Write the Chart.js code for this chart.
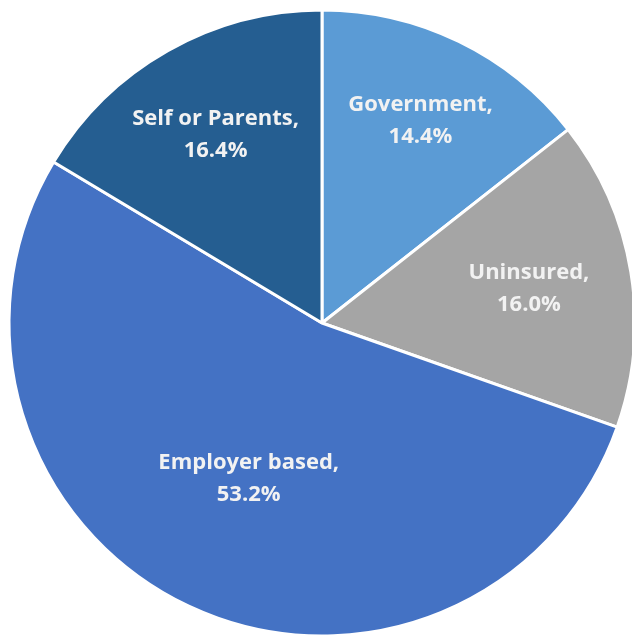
<!DOCTYPE html>
<html>
<head>
<meta charset="utf-8">
<script src="https://cdn.jsdelivr.net/npm/chart.js@4"></script>
<style>
  html, body { margin: 0; padding: 0; background: #ffffff; overflow: hidden; width: 632px; height: 636px; }
  canvas { display: block; }
</style>
</head>
<body>
<canvas id="c" width="644" height="646"></canvas>
<script>
const categories = ["Government", "Uninsured", "Employer based", "Self or Parents"];
const shares = [14.4, 16.0, 53.2, 16.4];
const sliceColors = ["#5B9BD5", "#A5A5A5", "#4472C4", "#255E91"];
const labelRadiusFraction = [0.72, 0.67, 0.55, 0.69];

const pieLabels = {
  id: 'pieLabels',
  afterDatasetsDraw(chart) {
    const ctx = chart.ctx;
    const meta = chart.getDatasetMeta(0);
    ctx.save();
    ctx.fillStyle = '#F2F2F2';
    ctx.font = 'bold 22px "Open Sans", Lato, sans-serif';
    ctx.textAlign = 'center';
    ctx.textBaseline = 'middle';
    meta.data.forEach((arc, i) => {
      const p = arc.getProps(['x', 'y', 'startAngle', 'endAngle', 'outerRadius'], true);
      const mid = (p.startAngle + p.endAngle) / 2;
      const r = p.outerRadius * labelRadiusFraction[i];
      const cx = p.x + Math.cos(mid) * r;
      const cy = p.y + Math.sin(mid) * r;
      const val = chart.data.datasets[0].data[i].toFixed(1) + '%';
      ctx.fillText(chart.data.labels[i] + ',', cx, cy - 16);
      ctx.fillText(val, cx, cy + 16);
    });
    ctx.restore();
  }
};

new Chart(document.getElementById('c'), {
  type: 'pie',
  data: {
    labels: categories,
    datasets: [{
      data: shares,
      backgroundColor: sliceColors,
      borderColor: '#ffffff',
      borderWidth: 3
    }]
  },
  options: {
    responsive: false,
    animation: false,
    radius: 313,
    layout: { padding: 0 },
    plugins: {
      legend: { display: false },
      tooltip: { enabled: false }
    }
  },
  plugins: [pieLabels]
});
</script>
</body>
</html>
